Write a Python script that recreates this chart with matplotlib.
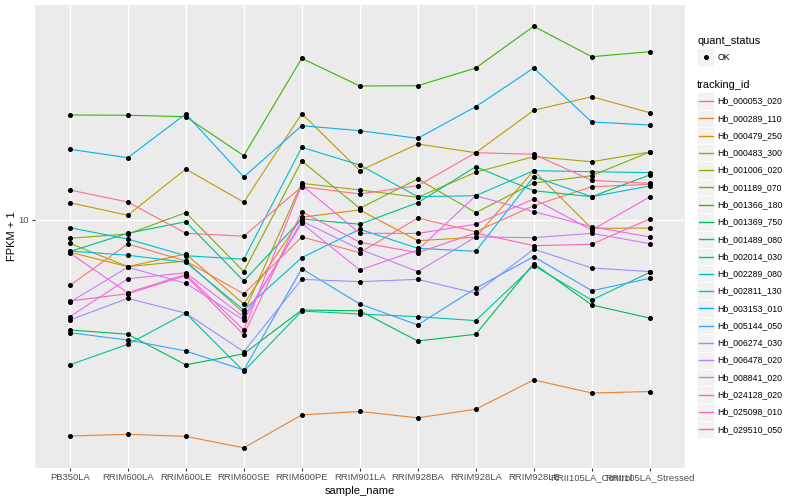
import matplotlib
matplotlib.use("Agg")
import matplotlib.pyplot as plt
from matplotlib.lines import Line2D
from matplotlib.patches import Rectangle
from matplotlib.ticker import NullLocator

plt.rcParams['font.family'] = ['Liberation Sans', 'DejaVu Sans']

samples = ["PB350LA", "RRIM600LA", "RRIM600LE", "RRIM600SE", "RRIM600PE",
           "RRIM901LA", "RRIM928BA", "RRIM928LA", "RRIM928LE",
           "RRII105LA_Control", "RRII105LA_Stressed"]

tracking_ids = ["Hb_000053_020", "Hb_000289_110", "Hb_000479_250", "Hb_000483_300",
                "Hb_001006_020", "Hb_001189_070", "Hb_001366_180", "Hb_001369_750",
                "Hb_001489_080", "Hb_002014_030", "Hb_002289_080", "Hb_002811_130",
                "Hb_003153_010", "Hb_005144_050", "Hb_006274_030", "Hb_006478_020",
                "Hb_008841_020", "Hb_024128_020", "Hb_025098_010", "Hb_029510_050"]

colors = ["#F8766D", "#EA8331", "#D89000", "#C09B00", "#A3A500", "#7CAE00", "#39B600",
          "#00BB4E", "#00BF7D", "#00C1A3", "#00BFC4", "#00BAE0", "#00B0F6", "#35A2FF",
          "#9590FF", "#C77CFF", "#E76BF3", "#FA62DB", "#FF62BC", "#FF6C90"]

# FPKM + 1 values per gene, one value per sample
Hb_000053_020 = [6.05, 8.32, 7.30, 5.67, 8.78, 7.78, 10.15, 9.14, 11.16, 12.91, 13.15]
Hb_000289_110 = [1.905, 1.93, 1.90, 1.74, 2.24, 2.30, 2.19, 2.34, 2.93, 2.65, 2.68]
Hb_000479_250 = [7.81, 6.99, 7.70, 5.25, 10.21, 10.80, 8.53, 8.76, 14.60, 9.38, 9.40]
Hb_000483_300 = [11.42, 10.37, 14.79, 11.46, 22.62, 14.60, 17.92, 16.76, 23.21, 25.76, 22.79]
Hb_001006_020 = [8.36, 6.99, 7.30, 4.90, 13.25, 12.59, 11.90, 14.42, 16.26, 15.64, 16.85]
Hb_001189_070 = [8.69, 8.98, 10.58, 6.73, 15.73, 10.94, 13.70, 10.58, 13.28, 14.05, 16.85]
Hb_001366_180 = [22.39, 22.34, 22.10, 16.38, 34.59, 27.97, 28.03, 32.11, 44.23, 35.02, 36.39]
Hb_001369_750 = [4.30, 4.16, 3.29, 3.58, 5.01, 4.98, 3.95, 4.16, 7.16, 5.21, 4.71]
Hb_001489_080 = [7.85, 9.03, 9.87, 6.26, 10.08, 9.68, 11.42, 15.05, 12.52, 11.96, 14.13]
Hb_002014_030 = [3.29, 3.85, 4.89, 3.13, 4.97, 4.86, 4.76, 4.62, 7.05, 5.41, 6.69]
Hb_002289_080 = [9.43, 8.64, 7.60, 7.40, 17.47, 15.25, 11.96, 12.05, 14.60, 14.49, 14.38]
Hb_002811_130 = [7.88, 7.63, 7.23, 5.01, 7.49, 9.31, 8.05, 7.86, 13.94, 11.96, 12.98]
Hb_003153_010 = [17.21, 16.13, 22.57, 13.91, 20.62, 19.85, 18.72, 23.86, 32.11, 21.22, 20.73]
Hb_005144_050 = [4.21, 3.98, 3.66, 3.16, 6.88, 5.25, 4.47, 5.92, 7.55, 5.81, 6.39]
Hb_006274_030 = [4.64, 5.48, 4.89, 3.64, 6.34, 6.23, 6.34, 5.70, 7.99, 6.92, 6.73]
Hb_006478_020 = [5.32, 6.96, 6.15, 4.64, 9.92, 7.99, 6.73, 8.78, 8.73, 9.03, 8.34]
Hb_008841_020 = [4.76, 6.37, 6.67, 4.75, 9.75, 6.81, 7.94, 12.05, 10.66, 9.50, 8.78]
Hb_024128_020 = [7.76, 5.72, 6.59, 4.30, 13.08, 9.03, 9.02, 9.68, 11.75, 9.26, 11.93]
Hb_025098_010 = [5.37, 5.68, 6.52, 4.14, 10.66, 8.43, 7.78, 9.05, 8.21, 8.30, 10.08]
Hb_029510_050 = [12.59, 11.48, 9.03, 8.83, 12.91, 12.21, 13.01, 16.76, 16.56, 13.56, 13.25]

series = [Hb_000053_020, Hb_000289_110, Hb_000479_250, Hb_000483_300, Hb_001006_020,
          Hb_001189_070, Hb_001366_180, Hb_001369_750, Hb_001489_080, Hb_002014_030,
          Hb_002289_080, Hb_002811_130, Hb_003153_010, Hb_005144_050, Hb_006274_030,
          Hb_006478_020, Hb_008841_020, Hb_024128_020, Hb_025098_010, Hb_029510_050]

W, H = 800, 500
fig = plt.figure(figsize=(W / 100, H / 100), dpi=100)
fig.patch.set_facecolor("white")

L, R, T, B = 35, 684.5, 5, 467.5
ax = fig.add_axes([L / W, 1 - B / H, (R - L) / W, (B - T) / H])
ax.set_facecolor("#EBEBEB")
for s in ax.spines.values():
    s.set_visible(False)

x = list(range(len(samples)))
for vals, col in zip(series, colors):
    ax.plot(x, vals, color=col, lw=0.8, zorder=3, solid_capstyle="butt")
for vals in series:
    ax.plot(x, vals, ls="none", marker="o", ms=2.6, color="black", zorder=4)

ax.set_yscale("log")
ax.set_ylim(1.496, 52.08)
ax.set_xlim(-0.6, len(samples) - 0.4)
ax.yaxis.set_minor_locator(NullLocator())
ax.set_yticks([10])
ax.set_yticklabels(["10"])
ax.set_xticks(x)
ax.set_xticklabels(samples)
ax.grid(True, color="white", lw=1.0, zorder=1)
ax.set_axisbelow(True)
ax.tick_params(axis="both", colors="#333333", length=2.2, width=0.8, labelsize=6.8,
               labelcolor="#4D4D4D", pad=2)
ax.set_xlabel("sample_name", fontsize=8.0, color="black", labelpad=3)
ax.set_ylabel("FPKM + 1", fontsize=8.0, color="black", labelpad=1)

# legend drawn in pixel coordinates
lg = fig.add_axes([0, 0, 1, 1], facecolor="none")
lg.set_xlim(0, W)
lg.set_ylim(H, 0)
lg.axis("off")

kx, kw = 697, 17.28
lg.text(kx, 41, "quant_status", fontsize=7.9, va="center", ha="left")
lg.add_patch(Rectangle((kx, 57 - kw / 2), kw, kw, facecolor="#F2F2F2", edgecolor="white", lw=0.5))
lg.plot([kx + kw / 2], [57], marker="o", ms=2.6, color="black")
lg.text(kx + kw + 3, 57, "OK", fontsize=6.3, va="center", ha="left")

lg.text(kx, 84.5, "tracking_id", fontsize=7.9, va="center", ha="left")
y0 = 101
for i, (tid, col) in enumerate(zip(tracking_ids, colors)):
    yc = y0 + i * kw
    lg.add_patch(Rectangle((kx, yc - kw / 2), kw, kw, facecolor="#F2F2F2", edgecolor="white", lw=0.5))
    lg.add_line(Line2D([kx + 1.5, kx + kw - 1.5], [yc, yc], color=col, lw=1.0))
    lg.text(kx + kw + 3, yc, tid, fontsize=6.3, va="center", ha="left")

fig.savefig("out.png", dpi=100)
